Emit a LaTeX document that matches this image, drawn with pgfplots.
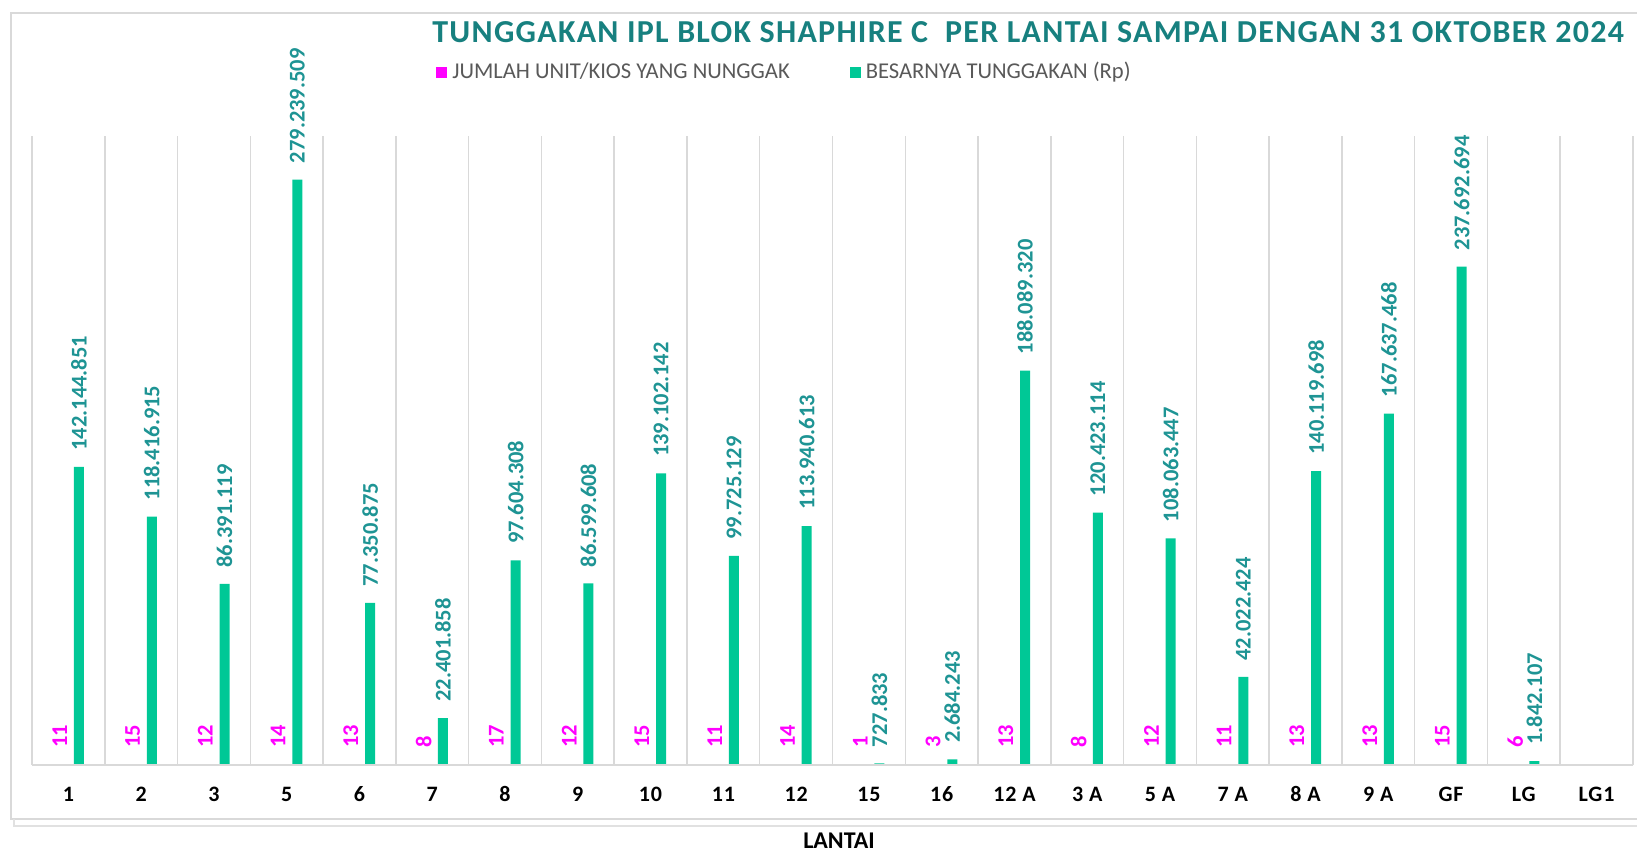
\documentclass[border=0pt]{standalone}
\usepackage{pgfplots}
\pgfplotsset{compat=1.18}
\usepackage{pgfplotstable}
\usepackage{fontspec}
\setmainfont{Carlito}
\definecolor{barg}{HTML}{00C896}
\definecolor{teal1}{HTML}{17807F}
\definecolor{teal2}{HTML}{1E9494}
\definecolor{mag}{HTML}{FF00FF}
\definecolor{lgrey}{HTML}{595959}
\definecolor{gridc}{HTML}{D9D9D9}

\pgfplotstableread{
x count amount label
0 11 142144851 142.144.851
1 15 118416915 118.416.915
2 12 86391119 86.391.119
3 14 279239509 279.239.509
4 13 77350875 77.350.875
5 8 22401858 22.401.858
6 17 97604308 97.604.308
7 12 86599608 86.599.608
8 15 139102142 139.102.142
9 11 99725129 99.725.129
10 14 113940613 113.940.613
11 1 727833 727.833
12 3 2684243 2.684.243
13 13 188089320 188.089.320
14 8 120423114 120.423.114
15 12 108063447 108.063.447
16 11 42022424 42.022.424
17 13 140119698 140.119.698
18 13 167637468 167.637.468
19 15 237692694 237.692.694
20 6 1842107 1.842.107
}\datatable

\begin{document}
\begin{tikzpicture}
\useasboundingbox (0,0) rectangle (818.5pt,425.5pt);
\draw[gridc, line width=0.75pt] (5.5pt,16pt) rectangle (830pt,419pt);
\draw[gridc!80, line width=0.75pt] (7pt,16pt) -- (7pt,12.5pt) -- (830pt,12.5pt);
\begin{axis}[
  at={(16pt,43pt)}, anchor=south west,
  scale only axis, width=800.5pt, height=314.5pt,
  ymin=0, ymax=300000000,
  xmin=-0.5, xmax=21.5,
  ytick=\empty,
  xtick={0,...,21},
  xticklabels={1,2,3,5,6,7,8,9,10,11,12,15,16,12 A,3 A,5 A,7 A,8 A,9 A,GF,LG,LG1},
  xticklabel style={font=\fontsize{11}{13}\selectfont\bfseries\addfontfeature{LetterSpace=4}, anchor=base, yshift=-13.8pt, text=black},
  tick style={draw=none},
  minor xtick={-0.5,0.5,...,21.5},
  xminorgrids, minor grid style={gridc, line width=0.75pt},
  axis line style={draw=none},
  ybar, bar width=5pt,
  clip=false,
  legend columns=2,
  legend image code/.code={\fill[#1] (0pt,-2.75pt) rectangle (5.5pt,2.75pt);},
  legend style={at={(rel axis cs:0.2523,1.1017)}, anchor=west, draw=none, fill=none,
    inner sep=0pt, font=\fontsize{11.3}{13}\selectfont, text=lgrey,
    nodes={inner sep=0pt},
    /tikz/every odd column/.append style={column sep=2.5pt},
    /tikz/every even column/.append style={column sep=30pt}},
  legend cell align=left,
]
\addplot[fill=mag, draw=none, bar shift=-4.3pt,
  nodes near coords, point meta=explicit symbolic,
  nodes near coords style={text=mag, font=\fontsize{11.25}{13}\selectfont\bfseries, rotate=90, anchor=west, inner xsep=8.5pt, inner ysep=0pt}]
  table[x=x, y=count, meta=count] {\datatable};
\addplot[fill=barg, draw=none, bar shift=5.3pt,
  nodes near coords, point meta=explicit symbolic,
  nodes near coords style={text=teal2, font=\fontsize{11.25}{13}\selectfont\bfseries, rotate=90, anchor=west, inner xsep=8pt, inner ysep=0pt}]
  table[x=x, y=amount, meta=label] {\datatable};
\legend{JUMLAH UNIT/KIOS YANG NUNGGAK, BESARNYA TUNGGAKAN (Rp)}
\draw[gridc, line width=0.75pt] (rel axis cs:0,0) -- (rel axis cs:1,0);
\end{axis}
\node[anchor=base east, text=teal1, font=\fontsize{16}{19}\selectfont\bfseries\addfontfeature{LetterSpace=4}] at (815.5pt,404pt) {TUNGGAKAN IPL BLOK SHAPHIRE C\ \ PER LANTAI SAMPAI DENGAN 31 OKTOBER 2024};
\node[anchor=base, font=\fontsize{12}{14}\selectfont\bfseries] at (419.5pt,1.5pt) {LANTAI};
\end{tikzpicture}
\end{document}
